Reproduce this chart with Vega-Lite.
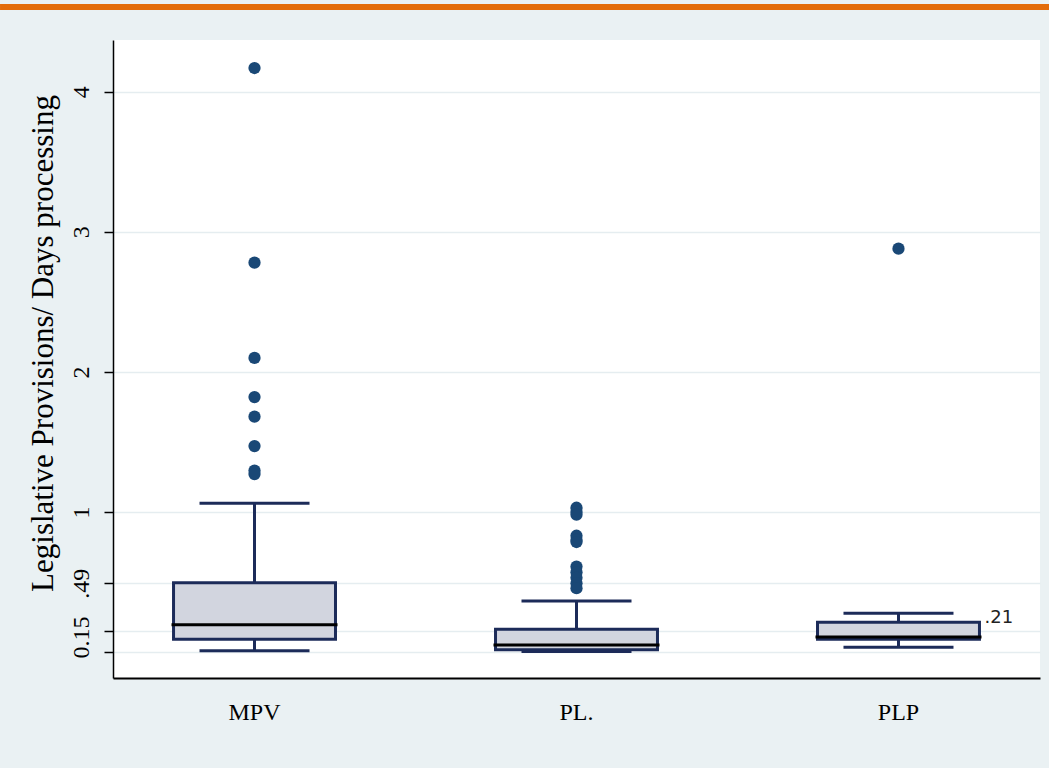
{
  "$schema": "https://vega.github.io/schema/vega-lite/v6.json",
  "background": "#EAF1F3",
  "padding": {"left": 0, "top": 4, "right": 0, "bottom": 44},
  "spacing": 30,
  "datasets": {
    "boxes": [
      {"group": "MPV", "lower": 0.008, "q1": 0.09, "median": 0.195, "q3": 0.495, "upper": 1.062},
      {"group": "PL.", "lower": 0.003, "q1": 0.016, "median": 0.05, "q3": 0.162, "upper": 0.363},
      {"group": "PLP", "lower": 0.033, "q1": 0.09, "median": 0.107, "q3": 0.213, "upper": 0.276}
    ],
    "outliers": [
      {"group": "MPV", "value": 4.17},
      {"group": "MPV", "value": 2.78},
      {"group": "MPV", "value": 2.1},
      {"group": "MPV", "value": 1.82},
      {"group": "MPV", "value": 1.68},
      {"group": "MPV", "value": 1.47},
      {"group": "MPV", "value": 1.295},
      {"group": "MPV", "value": 1.27},
      {"group": "PL.", "value": 1.03},
      {"group": "PL.", "value": 1.0},
      {"group": "PL.", "value": 0.98},
      {"group": "PL.", "value": 0.83},
      {"group": "PL.", "value": 0.8},
      {"group": "PL.", "value": 0.785},
      {"group": "PL.", "value": 0.61},
      {"group": "PL.", "value": 0.57},
      {"group": "PL.", "value": 0.53},
      {"group": "PL.", "value": 0.49},
      {"group": "PL.", "value": 0.455},
      {"group": "PLP", "value": 2.88}
    ],
    "labels": [
      {"group": "PLP", "value": 0.21, "label": ".21"}
    ],
    "strip": [
      {"start": -0.1207, "end": 1}
    ]
  },
  "vconcat": [
    {
      "width": 936,
      "height": 6,
      "data": {"name": "strip"},
      "mark": {"type": "rect", "color": "#E36C0A", "clip": false},
      "encoding": {
        "x": {"field": "start", "type": "quantitative", "scale": {"domain": [0, 1], "nice": false, "zero": false}, "axis": null},
        "x2": {"field": "end"}
      }
    },
    {
      "width": 927,
      "height": 638,
      "view": {"fill": "white", "stroke": null},
      "encoding": {
        "x": {
          "field": "group", "type": "nominal", "sort": null, "title": ".",
          "scale": {"domain": ["MPV", "PL.", "PLP"], "paddingInner": 0.497, "paddingOuter": 0.188}
        }
      },
      "layer": [
        {
          "data": {"name": "boxes"},
          "mark": {"type": "rule", "color": "#1C2B59", "strokeWidth": 3, "opacity": 1},
          "encoding": {
            "y": {
              "field": "lower", "type": "quantitative",
              "scale": {"domain": [-0.186, 4.37], "nice": false, "zero": false},
              "axis": {"title": "Legislative Provisions/ Days processing", "values": [0, 0.15, 0.49, 1, 2, 3, 4], "grid": true,
                "labelExpr": "datum.value == 0 ? '0' : (datum.value < 1 ? replace(format(datum.value, '.2f'), '0.', '.') : format(datum.value, 'd'))"}
            },
            "y2": {"field": "upper"}
          }
        },
        {
          "data": {"name": "boxes"},
          "mark": {"type": "tick", "color": "#1C2B59", "thickness": 3, "size": 110, "opacity": 1},
          "encoding": {
            "y": {
              "field": "upper", "type": "quantitative",
              "scale": {"domain": [-0.186, 4.37], "nice": false, "zero": false},
              "axis": {"title": "Legislative Provisions/ Days processing", "values": [0, 0.15, 0.49, 1, 2, 3, 4], "grid": true,
                "labelExpr": "datum.value == 0 ? '0' : (datum.value < 1 ? replace(format(datum.value, '.2f'), '0.', '.') : format(datum.value, 'd'))"}
            }
          }
        },
        {
          "data": {"name": "boxes"},
          "mark": {"type": "tick", "color": "#1C2B59", "thickness": 3, "size": 110, "opacity": 1},
          "encoding": {
            "y": {
              "field": "lower", "type": "quantitative",
              "scale": {"domain": [-0.186, 4.37], "nice": false, "zero": false},
              "axis": {"title": "Legislative Provisions/ Days processing", "values": [0, 0.15, 0.49, 1, 2, 3, 4], "grid": true,
                "labelExpr": "datum.value == 0 ? '0' : (datum.value < 1 ? replace(format(datum.value, '.2f'), '0.', '.') : format(datum.value, 'd'))"}
            }
          }
        },
        {
          "data": {"name": "boxes"},
          "mark": {"type": "bar", "fill": "#D2D5DF", "stroke": "#1C2B59", "strokeWidth": 3, "opacity": 1},
          "encoding": {
            "y": {
              "field": "q1", "type": "quantitative",
              "scale": {"domain": [-0.186, 4.37], "nice": false, "zero": false},
              "axis": {"title": "Legislative Provisions/ Days processing", "values": [0, 0.15, 0.49, 1, 2, 3, 4], "grid": true,
                "labelExpr": "datum.value == 0 ? '0' : (datum.value < 1 ? replace(format(datum.value, '.2f'), '0.', '.') : format(datum.value, 'd'))"}
            },
            "y2": {"field": "q3"}
          }
        },
        {
          "data": {"name": "boxes"},
          "mark": {"type": "tick", "color": "#000000", "thickness": 3, "size": 166, "opacity": 1},
          "encoding": {
            "y": {
              "field": "median", "type": "quantitative",
              "scale": {"domain": [-0.186, 4.37], "nice": false, "zero": false},
              "axis": {"title": "Legislative Provisions/ Days processing", "values": [0, 0.15, 0.49, 1, 2, 3, 4], "grid": true,
                "labelExpr": "datum.value == 0 ? '0' : (datum.value < 1 ? replace(format(datum.value, '.2f'), '0.', '.') : format(datum.value, 'd'))"}
            }
          }
        },
        {
          "data": {"name": "outliers"},
          "mark": {"type": "point", "filled": true, "shape": "circle", "size": 150, "color": "#1A4876", "opacity": 1},
          "encoding": {
            "y": {
              "field": "value", "type": "quantitative",
              "scale": {"domain": [-0.186, 4.37], "nice": false, "zero": false},
              "axis": {"title": "Legislative Provisions/ Days processing", "values": [0, 0.15, 0.49, 1, 2, 3, 4], "grid": true,
                "labelExpr": "datum.value == 0 ? '0' : (datum.value < 1 ? replace(format(datum.value, '.2f'), '0.', '.') : format(datum.value, 'd'))"}
            }
          }
        },
        {
          "data": {"name": "labels"},
          "mark": {"type": "text", "align": "left", "baseline": "alphabetic", "dx": 5, "font": "DejaVu Sans", "fontSize": 18, "color": "#222222"},
          "encoding": {
            "x": {
              "field": "group", "type": "nominal", "sort": null, "title": ".", "bandPosition": 1,
              "scale": {"domain": ["MPV", "PL.", "PLP"], "paddingInner": 0.497, "paddingOuter": 0.188}
            },
            "y": {
              "field": "value", "type": "quantitative",
              "scale": {"domain": [-0.186, 4.37], "nice": false, "zero": false},
              "axis": {"title": "Legislative Provisions/ Days processing", "values": [0, 0.15, 0.49, 1, 2, 3, 4], "grid": true,
                "labelExpr": "datum.value == 0 ? '0' : (datum.value < 1 ? replace(format(datum.value, '.2f'), '0.', '.') : format(datum.value, 'd'))"}
            },
            "text": {"field": "label"}
          }
        }
      ]
    }
  ],
  "config": {
    "view": {"stroke": null},
    "axisY": {
      "labelFont": "Liberation Serif", "labelFontSize": 24, "labelColor": "#000000",
      "labelAngle": -90, "labelAlign": "center", "labelBaseline": "bottom", "labelPadding": 11, "labelOverlap": false,
      "tickSize": 9, "tickColor": "#000000", "tickWidth": 1.5,
      "domainColor": "#000000", "domainWidth": 1.5,
      "gridColor": "#E5EDF0", "gridWidth": 1.5,
      "titleFont": "Liberation Serif", "titleFontSize": 31, "titleFontWeight": "normal", "titleColor": "#000000",
      "titleAngle": -90, "titleX": -70, "titleY": 303, "titleAlign": "center", "titleBaseline": "middle"
    },
    "axisX": {
      "labelFont": "Liberation Serif", "labelFontSize": 24, "labelColor": "#000000", "labelAngle": 0, "labelPadding": 22,
      "ticks": false, "tickSize": 0, "domainColor": "#000000", "domainWidth": 2, "grid": false,
      "titleX": -113, "titleY": 5, "titleAlign": "left", "titleBaseline": "top", "titleColor": "transparent", "titleFontSize": 8
    }
  }
}
